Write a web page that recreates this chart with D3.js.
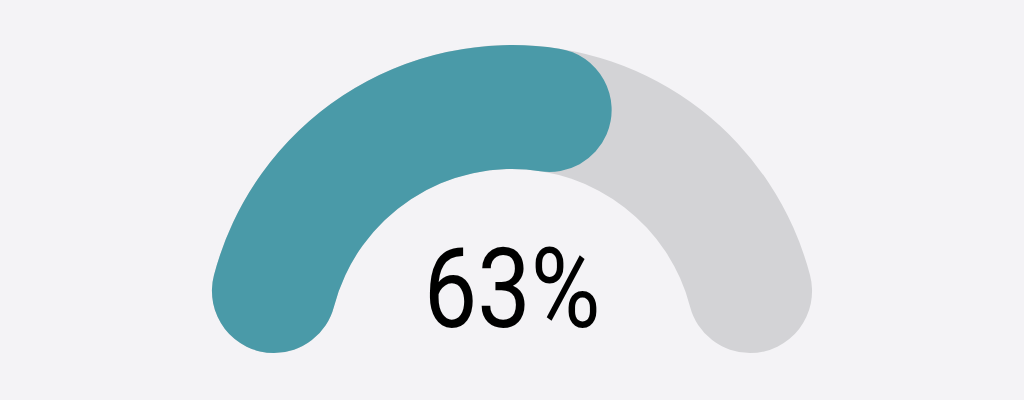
<!DOCTYPE html>
<html lang="en">
<head>
    <meta charset="UTF-8" />
    <title>Gauge</title>
    <style>
        html, body { margin: 0; padding: 0; background: #f4f3f6; }
        svg { display: block; }
        .value-label {
            font-family: Roboto, "Noto Sans", sans-serif;
            fill: #000000;
        }
    </style>
</head>
<body>
    <div id="chart"></div>

    <script src="https://d3js.org/d3.v7.min.js"></script>
    <script>
        // data
        const gaugeValue = [63];
        const gaugeDomain = [0, 100];
        const gaugeLabel = ['63%'];

        const width = 1024, height = 400;
        const cx = 512, cy = 353;
        const outerR = 308, innerR = 184;

        const svg = d3.select('#chart').append('svg')
            .attr('width', width)
            .attr('height', height);

        svg.append('rect')
            .attr('width', width)
            .attr('height', height)
            .attr('fill', '#f4f3f6');

        // value -> angle, half circle from left to right
        const angle = d3.scaleLinear()
            .domain(gaugeDomain)
            .range([-Math.PI / 2, Math.PI / 2]);

        const arc = d3.arc()
            .innerRadius(innerR)
            .outerRadius(outerR)
            .cornerRadius((outerR - innerR) / 2);

        const g = svg.append('g')
            .attr('transform', `translate(${cx},${cy})`);

        // track
        g.append('path')
            .attr('d', arc({ startAngle: angle(gaugeDomain[0]), endAngle: angle(gaugeDomain[1]) }))
            .attr('fill', '#d3d3d6');

        // value
        g.selectAll('path.value')
            .data(gaugeValue)
            .enter().append('path')
            .attr('class', 'value')
            .attr('d', d => arc({ startAngle: angle(gaugeDomain[0]), endAngle: angle(d) }))
            .attr('fill', '#4a9aa8');

        svg.append('text')
            .attr('class', 'value-label')
            .attr('transform', `translate(${cx},327) scale(0.85,1)`)
            .attr('text-anchor', 'middle')
            .attr('font-size', 112)
            .text(gaugeLabel[0]);
    </script>
</body>
</html>
